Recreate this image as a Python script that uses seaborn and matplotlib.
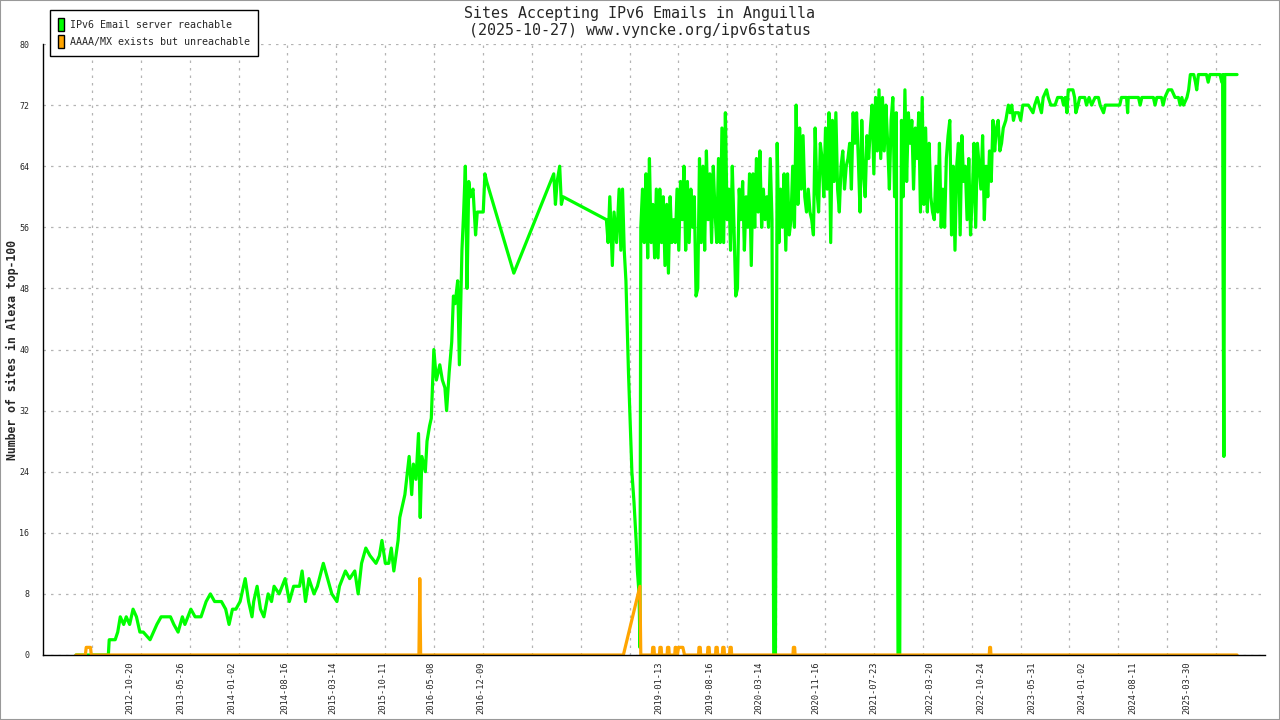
import numpy as np
import pandas as pd
import matplotlib
matplotlib.use("Agg")
import matplotlib.pyplot as plt
import matplotlib.dates as mdates
from matplotlib.patches import Patch, Rectangle
import seaborn as sns

# reachable sites, irregular sampling 2012 - 2018 (decimal year, count)
early_years = [2012.17, 2012.55, 2012.56, 2012.60, 2012.63, 2012.66, 2012.69, 2012.73, 2012.76, 2012.80,
               2012.84, 2012.88, 2012.92, 2012.96,
               2013.04, 2013.08, 2013.12, 2013.17, 2013.22, 2013.28, 2013.32, 2013.37, 2013.42, 2013.45,
               2013.52, 2013.57, 2013.64, 2013.70, 2013.75, 2013.80, 2013.88, 2013.93, 2013.97,
               2014.01, 2014.05, 2014.10, 2014.16, 2014.20, 2014.24, 2014.26, 2014.30, 2014.34, 2014.38,
               2014.43, 2014.47, 2014.50, 2014.56, 2014.63, 2014.68, 2014.73, 2014.80, 2014.83, 2014.87,
               2014.91, 2014.97,
               2015.01, 2015.08, 2015.13, 2015.18, 2015.24, 2015.27, 2015.34, 2015.39, 2015.45, 2015.49,
               2015.53, 2015.58, 2015.63, 2015.70, 2015.74,
               2015.77, 2015.81, 2015.85, 2015.88, 2015.91, 2015.96, 2015.98,
               2016.00, 2016.04, 2016.06, 2016.09, 2016.12, 2016.14, 2016.17, 2016.20, 2016.22, 2016.24,
               2016.28, 2016.30, 2016.33, 2016.35, 2016.38, 2016.41, 2016.45, 2016.48, 2016.51, 2016.53,
               2016.56, 2016.59, 2016.61, 2016.63, 2016.66, 2016.68, 2016.71, 2016.73, 2016.75, 2016.77,
               2016.79, 2016.81, 2016.84, 2016.87, 2016.89, 2016.92, 2016.96, 2016.98,
               2017.00, 2017.32, 2017.79, 2017.81, 2017.83, 2017.86, 2017.88, 2017.90,
               2018.41, 2018.43, 2018.45, 2018.48, 2018.50, 2018.53, 2018.56, 2018.58, 2018.60, 2018.62,
               2018.64, 2018.67, 2018.71, 2018.735, 2018.76, 2018.775, 2018.795, 2018.805]
early_sites = [0, 0, 2, 2, 2, 3, 5, 4, 5, 4, 6, 5, 3, 3,
               2, 3, 4, 5, 5, 5, 4, 3, 5, 4, 6, 5, 5, 7, 8, 7, 7, 6, 4,
               6, 6, 7, 10, 7, 5, 7, 9, 6, 5, 8, 7, 9, 8, 10, 7, 9, 9, 11, 7, 10, 8,
               9, 12, 10, 8, 7, 9, 11, 10, 11, 8, 12, 14, 13, 12, 13,
               15, 12, 12, 14, 11, 15, 18,
               19, 21, 23, 26, 21, 25, 23, 29, 18, 26, 24, 28, 30, 31, 40, 36, 38, 36, 35, 32,
               37, 41, 47, 46, 49, 38, 53, 58, 64, 48, 62, 60, 61, 55, 58, 58, 58, 63,
               62, 50, 63, 59, 62, 64, 59, 60,
               57, 54, 60, 51, 58, 54, 61, 53, 61, 53, 49, 37, 24, 20, 15, 11, 8, 1]

# reachable sites, weekly readings late 2018 - early 2023
dense_start = 2018.815
dense_end = 2023.04
dense_sites = [56, 61, 54, 63, 52, 65, 54, 59, 52, 61, 52, 61, 54, 60, 51, 59, 50, 60, 54, 57,
               54, 61, 53, 62, 57, 64, 53, 62, 54, 61, 56, 60, 47, 48, 65, 54, 64, 53, 66, 57,
               63, 54, 64, 58, 54, 65, 54, 69, 54, 71, 57, 61, 53, 64, 56, 47, 48, 61, 57, 62,
               53, 60, 56, 63, 51, 63, 56, 65, 58, 66, 56, 61, 57, 60, 56, 65, 57, 0, 0, 67,
               54, 61, 56, 63, 53, 63, 55, 57, 64, 56, 72, 59, 69, 61, 68, 60, 58, 61, 58, 57,
               55, 69, 61, 58, 67, 65, 60, 69, 61, 71, 54, 70, 62, 71, 61, 58, 64, 66, 61, 64,
               65, 67, 61, 71, 67, 71, 65, 58, 70, 63, 60, 68, 65, 69, 72, 63, 73, 66, 74, 65,
               73, 66, 72, 67, 61, 70, 73, 60, 71, 0, 0, 70, 60, 74, 62, 71, 67, 70, 61, 69,
               65, 71, 58, 73, 59, 69, 58, 67, 60, 58, 57, 64, 58, 67, 56, 61, 56, 65, 68, 70,
               55, 64, 53, 64, 67, 55, 68, 62, 64, 57, 65, 55, 60, 67, 56, 67, 64, 61, 68, 57,
               64, 60, 66, 62, 70, 66, 69, 70, 66]

# reachable sites 2023 - 2025
late_years = [2023.06, 2023.08, 2023.11, 2023.14, 2023.16, 2023.18, 2023.20, 2023.22, 2023.26, 2023.285,
              2023.31, 2023.375, 2023.43, 2023.45, 2023.48, 2023.53, 2023.55, 2023.59, 2023.61, 2023.64,
              2023.69, 2023.72, 2023.77, 2023.79, 2023.81, 2023.83, 2023.845, 2023.90, 2023.92, 2023.935,
              2023.96, 2023.98, 2024.04, 2024.06, 2024.09, 2024.12, 2024.16, 2024.20, 2024.22, 2024.26,
              2024.28, 2024.45, 2024.47, 2024.53, 2024.543, 2024.55, 2024.67, 2024.69, 2024.71, 2024.845,
              2024.865, 2024.885, 2024.94, 2024.96, 2024.98, 2025.02, 2025.06, 2025.10, 2025.14, 2025.16,
              2025.18, 2025.20, 2025.24, 2025.26, 2025.28, 2025.32, 2025.34, 2025.355, 2025.375, 2025.47,
              2025.49, 2025.51, 2025.63, 2025.65, 2025.66, 2025.665, 2025.675, 2025.685, 2025.83]
late_sites = [67, 69, 70, 72, 71, 72, 70, 71, 71, 70,
              72, 72, 71, 72, 73, 71, 73, 74, 73, 72,
              72, 73, 73, 72, 73, 71, 74, 74, 73, 71,
              72, 73, 73, 72, 73, 72, 73, 73, 72, 71,
              72, 72, 73, 73, 71, 73, 73, 72, 73, 73,
              72, 73, 73, 72, 73, 74, 74, 73, 73, 72,
              73, 72, 73, 74, 76, 76, 75, 74, 76, 76,
              75, 76, 76, 75, 76, 51, 26, 76, 76]

# AAAA/MX exists but unreachable
orange_years = [2012.17, 2012.28, 2012.29, 2012.34, 2012.35,
                2016.205, 2016.21, 2016.215, 2016.225,
                2018.61, 2018.805, 2018.815,
                2018.95, 2018.955, 2018.97, 2018.975,
                2019.035, 2019.04, 2019.055, 2019.06,
                2019.125, 2019.13, 2019.145, 2019.15,
                2019.215, 2019.22, 2019.23, 2019.235,
                2019.245, 2019.26, 2019.31, 2019.33,
                2019.495, 2019.50, 2019.515, 2019.52,
                2019.60, 2019.605, 2019.62, 2019.625,
                2019.695, 2019.70, 2019.715, 2019.72,
                2019.775, 2019.78, 2019.795, 2019.80,
                2019.86, 2019.865, 2019.88, 2019.885,
                2020.605, 2020.61, 2020.625, 2020.63,
                2022.915, 2022.92, 2022.93, 2022.935,
                2025.83]
orange_sites = [0, 0, 1, 1, 0,
                0, 5, 10, 0,
                0, 9, 0,
                0, 1, 1, 0,
                0, 1, 1, 0,
                0, 1, 1, 0,
                0, 1, 1, 0,
                0, 1, 1, 0,
                0, 1, 1, 0,
                0, 1, 1, 0,
                0, 1, 1, 0,
                0, 1, 1, 0,
                0, 1, 1, 0,
                0, 1, 1, 0,
                0, 1, 1, 0,
                0]

label_dates = ["2012-10-20", "2013-05-26", "2014-01-02", "2014-08-16", "2015-03-14", "2015-10-11",
               "2016-05-08", "2016-12-09", "2019-01-13", "2019-08-16", "2020-03-14", "2020-11-16",
               "2021-07-23", "2022-03-20", "2022-10-24", "2023-05-31", "2024-01-02", "2024-08-11",
               "2025-03-30"]


def to_dates(years):
    out = []
    for y in years:
        yr = int(y)
        start = pd.Timestamp(year=yr, month=1, day=1)
        end = pd.Timestamp(year=yr + 1, month=1, day=1)
        out.append(start + (end - start) * (y - yr))
    return out


dense_dates = pd.date_range(to_dates([dense_start])[0], to_dates([dense_end])[0], periods=len(dense_sites))
green = pd.DataFrame({
    "date": to_dates(early_years) + list(dense_dates) + to_dates(late_years),
    "sites": early_sites + dense_sites + late_sites,
})
orange = pd.DataFrame({"date": to_dates(orange_years), "sites": orange_sites})

sns.set_theme(style="white")
plt.rcParams["font.family"] = ["DejaVu Sans Mono"]

fig = plt.figure(figsize=(12.8, 7.2), dpi=100)
ax = fig.add_axes([43 / 1280, 1 - 655 / 720, (1265 - 43) / 1280, (655 - 44) / 720])

sns.lineplot(data=green, x="date", y="sites", color="#00ff00", linewidth=2.3,
             estimator=None, sort=False, ax=ax)
sns.lineplot(data=orange, x="date", y="sites", color="#ffa500", linewidth=2.3,
             estimator=None, sort=False, ax=ax)

xl = mdates.date2num(to_dates([2011.782, 2026.159]))
ax.set_xlim(xl[0], xl[1])
ax.set_ylim(0, 80)

# regular ticks with grid, date labels placed on their own dates
ax.set_xticks(np.linspace(xl[0], xl[1], 26))
ax.set_xticklabels([])
ax.set_xticks(mdates.date2num(pd.to_datetime(label_dates)), labels=label_dates, minor=True)
ax.tick_params(axis="x", which="minor", length=0, labelsize=6.3, rotation=90, pad=5)
ax.set_yticks(range(0, 81, 8))
ax.tick_params(axis="both", which="major", direction="inout", length=8, width=1,
               color="black", labelsize=6)
ax.tick_params(axis="y", pad=6)

ax.grid(True, which="major", color="#b4b4b4", linestyle=(0, (2, 4)), linewidth=0.9)
ax.set_axisbelow(True)
xgrid = ax.get_xgridlines()
xgrid[0].set_visible(False)
xgrid[-1].set_visible(False)
for s in ["top", "right"]:
    ax.spines[s].set_visible(False)
for s in ["left", "bottom"]:
    ax.spines[s].set_color("black")
    ax.spines[s].set_linewidth(1)
ax.set_xlabel("")
ax.set_ylabel("")

fig.text(0.5, 1 - 22 / 720, "Sites Accepting IPv6 Emails in Anguilla\n(2025-10-27) www.vyncke.org/ipv6status",
         ha="center", va="center", fontsize=10.8)
fig.text(12 / 1280, 1 - 350 / 720, "Number of sites in Alexa top-100", rotation=90,
         ha="center", va="center", fontsize=8.3, fontweight="bold")

handles = [Patch(facecolor="#00ff00", edgecolor="black", label="IPv6 Email server reachable"),
           Patch(facecolor="#ffa500", edgecolor="black", label="AAAA/MX exists but unreachable")]
leg = fig.legend(handles=handles, loc="upper left", bbox_to_anchor=(50 / 1280, 1 - 10 / 720),
                 frameon=True, fancybox=False, edgecolor="black", framealpha=1,
                 prop={"family": "DejaVu Sans Mono", "size": 7.2},
                 handlelength=0.6, handleheight=1.6, handletextpad=0.6,
                 borderpad=0.8, labelspacing=0.45, borderaxespad=0)
leg.get_frame().set_linewidth(1.0)

fig.patches.append(Rectangle((0, 0), 1, 1, transform=fig.transFigure, fill=False,
                             edgecolor="#999999", linewidth=1.5))

fig.savefig("out.png", dpi=100)
